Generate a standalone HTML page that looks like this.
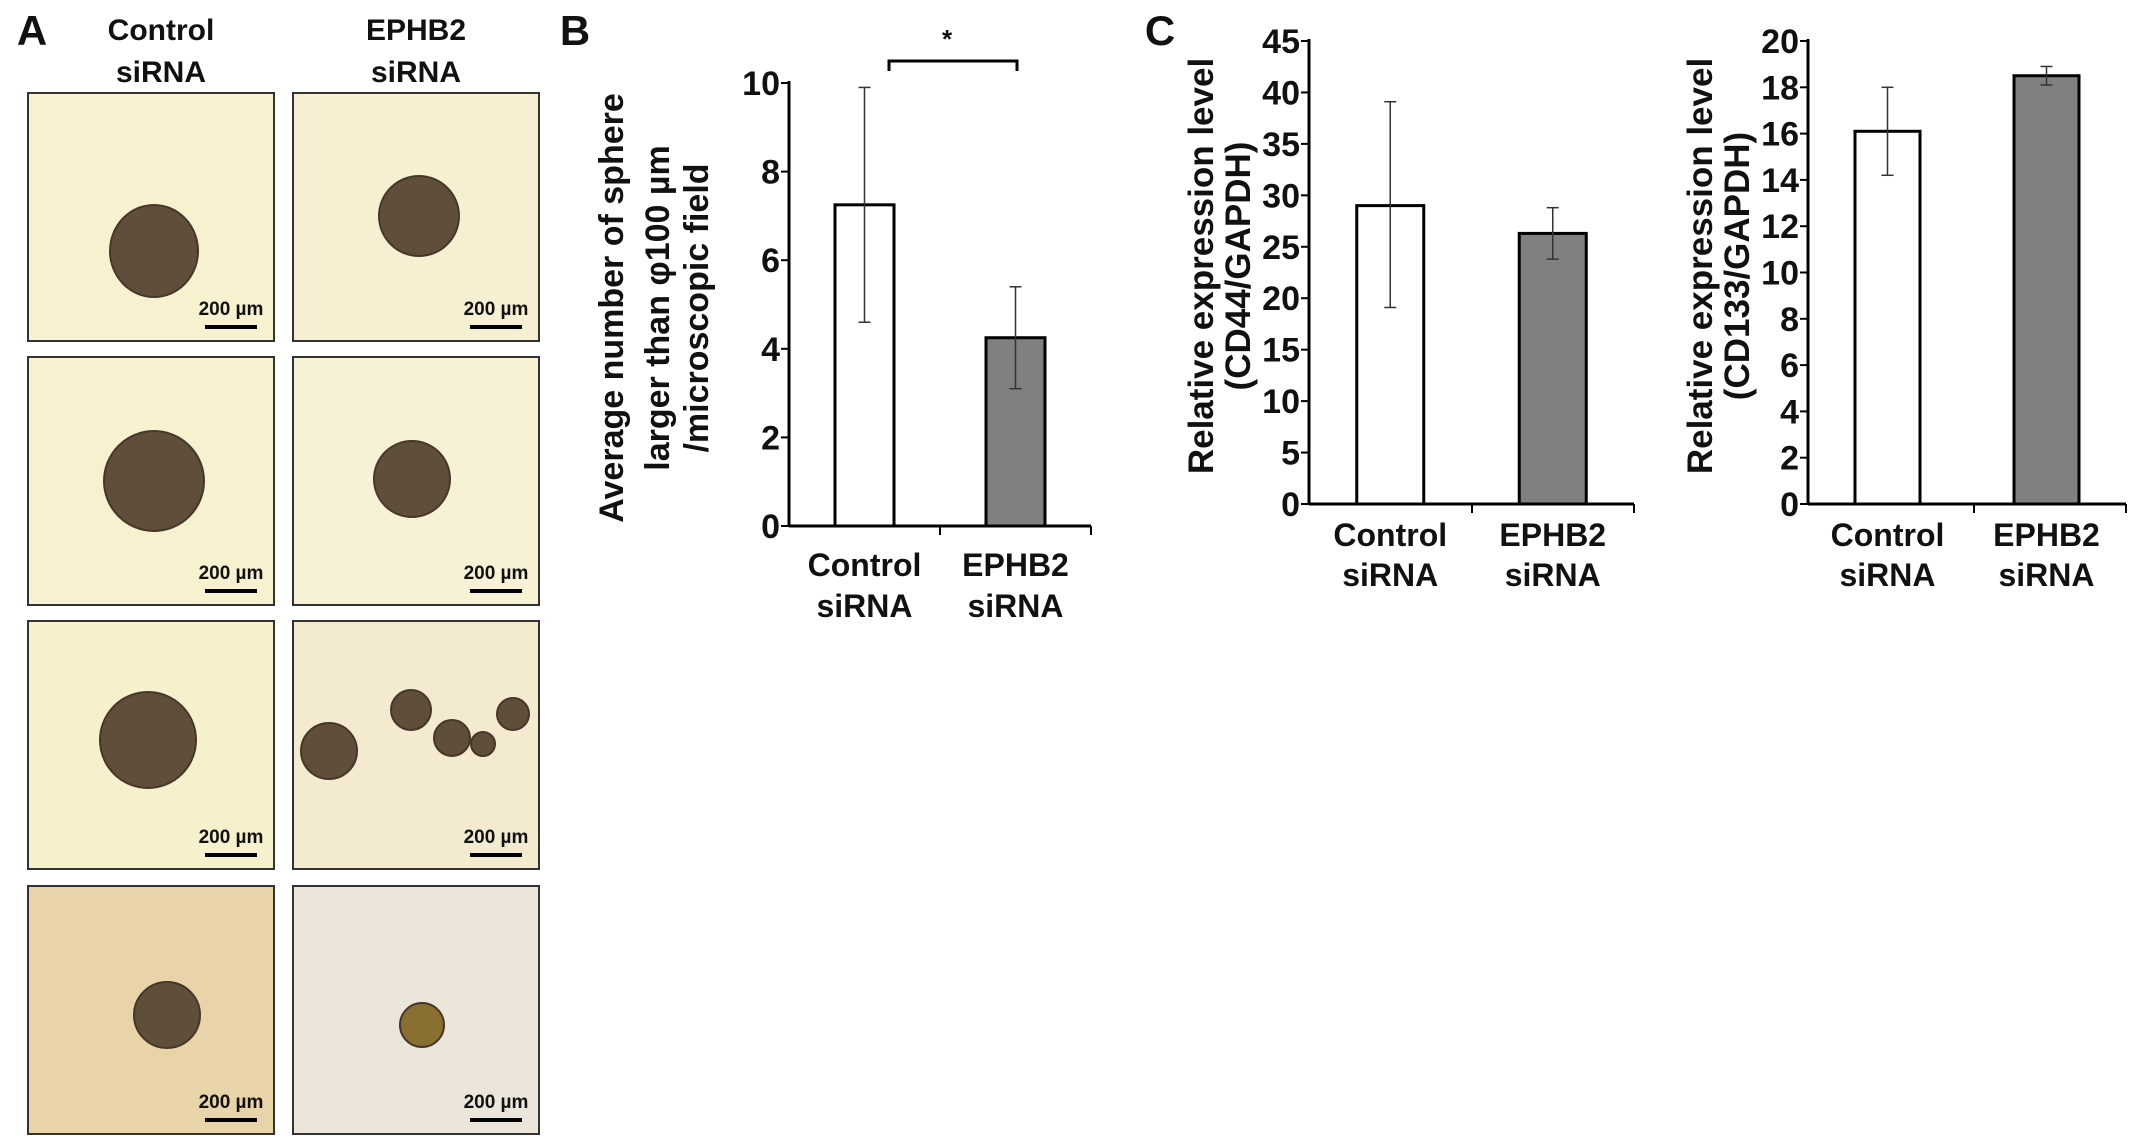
<!DOCTYPE html>
<html><head><meta charset="utf-8"><style>
html,body{margin:0;padding:0;background:#fff}
svg{display:block}
text{font-family:"Liberation Sans Narrow","Liberation Sans",Arial,sans-serif;font-weight:bold;fill:#111}
.lab{font-family:"Liberation Sans",Arial,sans-serif}
</style></head><body>
<svg id="fig" width="2150" height="1146" viewBox="0 0 2150 1146" xmlns="http://www.w3.org/2000/svg">
<text x="32" y="45" font-size="42" text-anchor="middle">A</text>
<text x="161" y="40" font-size="30" text-anchor="middle">Control</text>
<text x="161" y="82" font-size="30" text-anchor="middle">siRNA</text>
<text x="416" y="40" font-size="30" text-anchor="middle">EPHB2</text>
<text x="416" y="82" font-size="30" text-anchor="middle">siRNA</text>
<g id="micro"></g>
<text x="575" y="45" font-size="42" text-anchor="middle">B</text>
<text x="1160" y="45" font-size="42" text-anchor="middle">C</text>
<g id="chartB"></g>
<g id="chartC1"></g>
<g id="chartC2"></g>
</svg>
<script>
const NS="http://www.w3.org/2000/svg";
const categories=["Control\nsiRNA","EPHB2\nsiRNA"];
const sphereValues=[7.25,4.25];
const sphereErrLow=[4.6,3.1];
const sphereErrHigh=[9.9,5.4];
const sphereTicks=[0,2,4,6,8,10];
const cd44Values=[29,26.3];
const cd44ErrLow=[19.1,23.8];
const cd44ErrHigh=[39.1,28.8];
const cd44Ticks=[0,5,10,15,20,25,30,35,40,45];
const cd133Values=[16.1,18.5];
const cd133ErrLow=[14.2,18.1];
const cd133ErrHigh=[18.0,18.9];
const cd133Ticks=[0,2,4,6,8,10,12,14,16,18,20];
const barFills=["#ffffff","#808080"];

function el(tag,attrs,parent,txt){const e=document.createElementNS(NS,tag);for(const k in attrs)e.setAttribute(k,attrs[k]);if(txt!==undefined)e.textContent=txt;parent.appendChild(e);return e;}

const micro=document.getElementById('micro');
const colX=[28,293],rowY=[93,357,621,886],bw=246,bh=248;
const bgs=[["#f8f1cf","#f6efd2"],["#f8f1cf","#f7f1d6"],["#f7f0cc","#f3ead0"],["#e9d3a9","#ece6da"]];
const spheres=[
 [[[126,158,44,46]],[[126,123,40,40]]],
 [[[126,124,50,50]],[[119,122,38,38]]],
 [[[120,119,48,48]],[[36,130,28,28],[118,89,20,20],[159,117,18,18],[190,123,12,12],[220,93,16,16]]],
 [[[139,129,33,33]],[[129,139,22,22]]]];
for(let r=0;r<4;r++)for(let c=0;c<2;c++){
 const g=el('g',{transform:`translate(${colX[c]},${rowY[r]})`},micro);
 
 
 el('rect',{x:0,y:0,width:bw,height:bh,fill:bgs[r][c],stroke:'#333','stroke-width':2},g);
 spheres[r][c].forEach(s=>{el('ellipse',{cx:s[0],cy:s[1],rx:s[2],ry:s[3],fill:(r==3&&c==1)?'#8a7030':'#5e4e3a',stroke:'#45382a','stroke-width':2},g);});
 const t=el('text',{x:203,y:222,'font-size':19,'text-anchor':'middle'},g,'200 µm');
 
 
 const b=el('rect',{x:177,y:232,width:52,height:4,fill:'#000'},g);
 
 
}

function chart(id,o){
 const g=document.getElementById(id);
 const ymax=o.ticks[o.ticks.length-1];
 const y=v=>o.y0-(v/ymax)*(o.y0-o.ytop);
 el('line',{x1:o.ax,y1:y(ymax)-2,x2:o.ax,y2:o.y0,stroke:'#000','stroke-width':3},g);
 el('line',{x1:o.ax,y1:o.y0,x2:o.xend,y2:o.y0,stroke:'#000','stroke-width':3},g);
 el('line',{x1:o.mid,y1:o.y0,x2:o.mid,y2:o.y0+9,stroke:'#000','stroke-width':2},g);
 el('line',{x1:o.xend,y1:o.y0,x2:o.xend,y2:o.y0+9,stroke:'#000','stroke-width':2},g);
 o.ticks.forEach(t=>{
  el('line',{x1:o.ax-8,y1:y(t),x2:o.ax,y2:y(t),stroke:'#000','stroke-width':2},g);
  const tx=el('text',{x:o.ax-9,y:y(t)+12,'font-size':34,'text-anchor':'end'},g,String(t));
  
  
 });
 const slot=(o.xend-o.ax)/2;
 o.vals.forEach((v,i)=>{
  const cx=o.ax+slot*(i+0.5);
  const bar=el('rect',{x:cx-o.bw/2,y:y(v),width:o.bw,height:o.y0-y(v),fill:barFills[i],stroke:'#000','stroke-width':3},g);
  
  
  el('line',{x1:cx,y1:y(o.lo[i]),x2:cx,y2:y(o.hi[i]),stroke:'#333','stroke-width':1.5},g);
  el('line',{x1:cx-6,y1:y(o.lo[i]),x2:cx+6,y2:y(o.lo[i]),stroke:'#333','stroke-width':1.5},g);
  el('line',{x1:cx-6,y1:y(o.hi[i]),x2:cx+6,y2:y(o.hi[i]),stroke:'#333','stroke-width':1.5},g);
  const lines=categories[i].split('\n');
  lines.forEach((l,j)=>{const t=el('text',{x:cx,y:o.catY+j*o.catGap,'font-size':32,'text-anchor':'middle'},g,l);
   
   });
 });
 o.ylab.forEach((l,j)=>{
  const t=el('text',{x:0,y:0,'font-size':o.yfs,'text-anchor':'middle',class:'lab',transform:`translate(${o.ylx[j]},${o.lyc}) rotate(-90)`},g,l);
  
  
 });
 return {y};
}
chart('chartB',{ax:789,y0:526,ytop:83,xend:1091,mid:940,bw:59,ticks:sphereTicks,vals:sphereValues,lo:sphereErrLow,hi:sphereErrHigh,catY:576,catGap:41,ylab:["Average number of sphere","larger than φ100 µm","/microscopic field"],ylx:[623,669,708],lyc:308,yfs:34});
const gb=document.getElementById('chartB');
el('path',{d:'M889 71 L889 61 L1017 61 L1017 71',fill:'none',stroke:'#000','stroke-width':3},gb);
const star=el('text',{x:947,y:48,'font-size':26,'text-anchor':'middle'},gb,'*');


chart('chartC1',{ax:1309,y0:504,ytop:41,xend:1634,mid:1472,bw:67,ticks:cd44Ticks,vals:cd44Values,lo:cd44ErrLow,hi:cd44ErrHigh,catY:546,catGap:40,ylab:["Relative expression level","(CD44/GAPDH)"],ylx:[1213,1250],lyc:266,yfs:35});
chart('chartC2',{ax:1808,y0:504,ytop:41,xend:2126,mid:1974,bw:65,ticks:cd133Ticks,vals:cd133Values,lo:cd133ErrLow,hi:cd133ErrHigh,catY:546,catGap:40,ylab:["Relative expression level","(CD133/GAPDH)"],ylx:[1712,1749],lyc:266,yfs:35});
</script>
</body></html>
